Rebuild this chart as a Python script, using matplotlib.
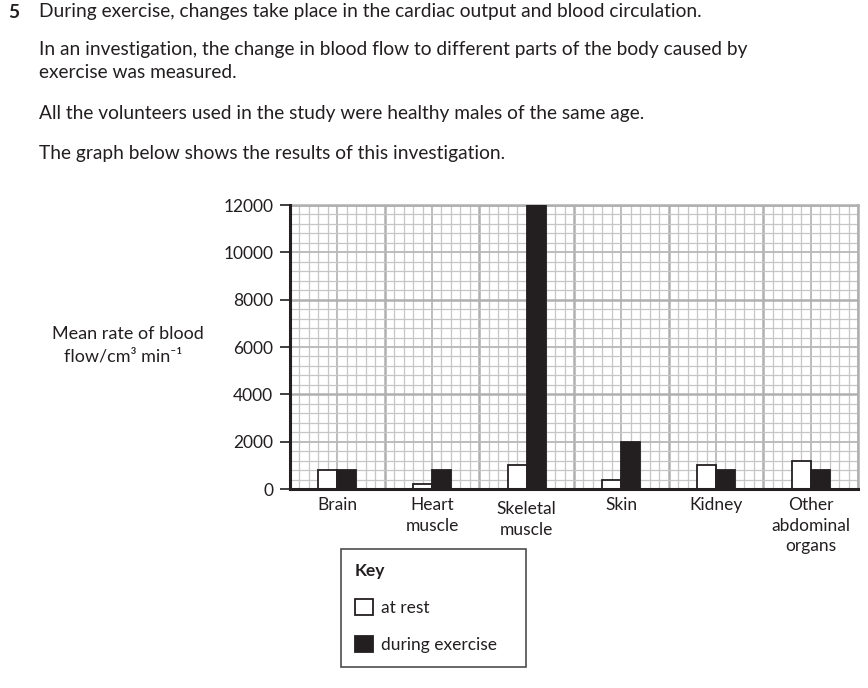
import numpy as np
import matplotlib
matplotlib.use("Agg")
import matplotlib.pyplot as plt
from matplotlib.patches import Patch
from matplotlib.transforms import ScaledTranslation

plt.rcParams['font.family'] = ['Lato', 'DejaVu Sans']
ink = '#231f20'

# data (cm3 per min)
organs = ['Brain', 'Heart\nmuscle', 'Skeletal\nmuscle', 'Skin', 'Kidney', 'Other\nabdominal\norgans']
at_rest = [800, 200, 1000, 400, 1000, 1200]
exercise = [800, 800, 12000, 2000, 800, 800]
y_ticks = [0, 2000, 4000, 6000, 8000, 10000, 12000]

fig = plt.figure(figsize=(8.68, 6.88), dpi=100)
fs = 12.5
qfs = 13.8

# question text
fig.text(8 / 868, 1 - 12 / 688, '5', fontsize=qfs, fontweight='bold', color=ink, va='center')
lines = [(12, 'During exercise, changes take place in the cardiac output and blood circulation.'),
         (50, 'In an investigation, the change in blood flow to different parts of the body caused by'),
         (73, 'exercise was measured.'),
         (113, 'All the volunteers used in the study were healthy males of the same age.'),
         (154, 'The graph below shows the results of this investigation.')]
for y, s in lines:
    fig.text(39 / 868, 1 - y / 688, s, fontsize=qfs, color=ink, va='center')

ax = fig.add_axes([290 / 868, 199 / 688, 568 / 868, 284 / 688])
n = len(organs)
x = np.arange(n)
ax.set_xlim(-0.5, n - 0.5)
ax.set_ylim(0, 12000)

# graph paper
for gx in np.arange(-0.5, n - 0.5 + 1e-9, 0.1):
    k = int(round((gx + 0.5) * 10))
    if k % 10 == 0:
        ax.axvline(gx, color='#b0b0b0', lw=1.8, zorder=0)
    elif k % 5 == 0:
        ax.axvline(gx, color='#b8b8b8', lw=1.3, zorder=0)
    else:
        ax.axvline(gx, color='#c6c6c6', lw=0.9, zorder=0)
for gy in np.arange(0, 12001, 400):
    k = int(round(gy / 400))
    if k % 10 == 0:
        ax.axhline(gy, color='#b0b0b0', lw=1.8, zorder=0)
    elif k % 5 == 0:
        ax.axhline(gy, color='#b8b8b8', lw=1.3, zorder=0)
    else:
        ax.axhline(gy, color='#c6c6c6', lw=0.9, zorder=0)

w = 0.2
ax.bar(x - w / 2, at_rest, w, color='white', edgecolor=ink, linewidth=1.3, zorder=3, label='at rest')
ax.bar(x + w / 2, exercise, w, color=ink, edgecolor=ink, linewidth=1.3, zorder=3, label='during exercise')

ax.set_yticks(y_ticks)
ax.set_yticklabels([str(v) for v in y_ticks], fontsize=fs, color=ink)
ax.tick_params(axis='y', length=7, width=1.2, pad=5, color=ink)
ax.set_xticks(x)
ax.set_xticklabels(organs, fontsize=fs, color=ink, linespacing=1.35)
ax.tick_params(axis='x', length=0, pad=6)
# skeletal muscle label sits a little lower in the original
lab = ax.get_xticklabels()[2]
lab.set_transform(lab.get_transform() + ScaledTranslation(0, -0.04, fig.dpi_scale_trans))

for side in ['left', 'bottom']:
    ax.spines[side].set_color(ink)
    ax.spines[side].set_linewidth(2.2)
    ax.spines[side].set_zorder(5)
for side in ['top', 'right']:
    ax.spines[side].set_color('#b0b0b0')
    ax.spines[side].set_linewidth(1.8)

fig.text(128 / 868, 1 - 334 / 688, 'Mean rate of blood', fontsize=13, color=ink, ha='center', va='center')
fig.text(123 / 868, 1 - 356 / 688, 'flow/cm³ min⁻¹', fontsize=13, color=ink, ha='center', va='center')

handles = [Patch(facecolor='white', edgecolor=ink, linewidth=1.3, label='at rest'),
           Patch(facecolor=ink, edgecolor=ink, linewidth=1.3, label='during exercise')]
leg = fig.legend(handles=handles, loc='upper left',
                 bbox_to_anchor=(341 / 868, 1 - 666 / 688, 185 / 868, 117 / 688), mode='expand',
                 title='Key', alignment='left', fontsize=fs, title_fontproperties={'weight': 'bold', 'size': fs},
                 frameon=True, fancybox=False, edgecolor=ink, handlelength=1.05, handleheight=1.05,
                 handletextpad=0.45, labelspacing=1.15, borderpad=0.8, borderaxespad=0)
leg.get_frame().set_linewidth(1.2)
leg.get_frame().set_edgecolor(ink)
for t in leg.get_texts():
    t.set_color(ink)
leg.get_title().set_color(ink)

fig.savefig('out.png', dpi=100)
